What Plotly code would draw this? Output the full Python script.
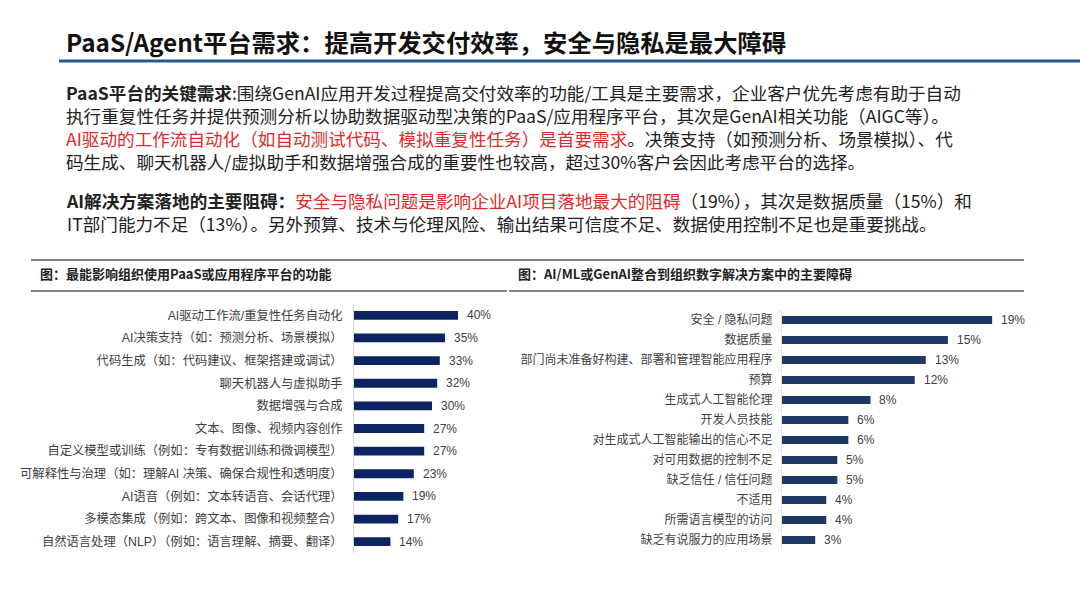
import plotly.graph_objects as go

# 数据：左图（平台功能）
feat_labels = [
    'AI驱动工作流/重复性任务自动化',
    'AI决策支持（如：预测分析、场景模拟）',
    '代码生成（如：代码建议、框架搭建或调试）',
    '聊天机器人与虚拟助手',
    '数据增强与合成',
    '文本、图像、视频内容创作',
    '自定义模型或训练（例如：专有数据训练和微调模型）',
    '可解释性与治理（如：理解AI 决策、确保合规性和透明度）',
    'AI语音（例如：文本转语音、会话代理）',
    '多模态集成（例如：跨文本、图像和视频整合）',
    '自然语言处理（NLP）（例如：语言理解、摘要、翻译）',
]
feat_values = [40, 35, 33, 32, 30, 27, 27, 23, 19, 17, 14]

# 数据：右图（主要障碍）
barrier_labels = [
    '安全 / 隐私问题',
    '数据质量',
    '部门尚未准备好构建、部署和管理智能应用程序',
    '预算',
    '生成式人工智能伦理',
    '开发人员技能',
    '对生成式人工智能输出的信心不足',
    '对可用数据的控制不足',
    '缺乏信任 / 信任问题',
    '不适用',
    '所需语言模型的访问',
    '缺乏有说服力的应用场景',
]
barrier_values = [19, 15, 13, 12, 8, 6, 6, 5, 5, 4, 4, 3]

title_text = 'PaaS/Agent平台需求：提高开发交付效率，安全与隐私是最大障碍'
left_title = '图：最能影响组织使用PaaS或应用程序平台的功能'
right_title = '图：AI/ML或GenAI整合到组织数字解决方案中的主要障碍'

RED = '#e02b2b'
para1 = '<br>'.join([
    '<b>PaaS平台的关键需求</b>:围绕GenAI应用开发过程提高交付效率的功能/工具是主要需求，企业客户优先考虑有助于自动',
    '执行重复性任务并提供预测分析以协助数据驱动型决策的PaaS/应用程序平台，其次是GenAI相关功能（AIGC等）。',
    f'<span style="color:{RED}">AI驱动的工作流自动化（如自动测试代码、模拟重复性任务）是首要需求</span>。决策支持（如预测分析、场景模拟）、代',
    '码生成、聊天机器人/虚拟助手和数据增强合成的重要性也较高，超过30%客户会因此考虑平台的选择。',
])
para2 = '<br>'.join([
    f'<b>AI解决方案落地的主要阻碍：</b><span style="color:{RED}">安全与隐私问题是影响企业AI项目落地最大的阻碍</span>（19%），其次是数据质量（15%）和',
    'IT部门能力不足（13%）。另外预算、技术与伦理风险、输出结果可信度不足、数据使用控制不足也是重要挑战。',
])

W, H = 1080, 608
CJK = 'Noto Sans CJK SC'
LAB = 'Liberation Sans, Noto Sans CJK SC'


def px(x):
    return x / W


def py(y):
    return 1 - y / H


fig = go.Figure()

fig.add_trace(go.Bar(
    x=feat_values, y=feat_labels, orientation='h',
    marker=dict(color='#0d2463', line=dict(width=0)),
    xaxis='x', yaxis='y', hoverinfo='skip',
))
fig.add_trace(go.Bar(
    x=barrier_values, y=barrier_labels, orientation='h',
    marker=dict(color='#203864', line=dict(width=0)),
    xaxis='x2', yaxis='y2', hoverinfo='skip',
))

annotations = []
# 数值标签
for lab, v in zip(feat_labels, feat_values):
    annotations.append(dict(x=v, y=lab, xref='x', yref='y', text=f'{v}%',
                            showarrow=False, xanchor='left', xshift=7,
                            font=dict(family=LAB, size=12, color='#404040')))
for lab, v in zip(barrier_labels, barrier_values):
    annotations.append(dict(x=v, y=lab, xref='x2', yref='y2', text=f'{v}%',
                            showarrow=False, xanchor='left', xshift=7,
                            font=dict(family=LAB, size=12, color='#404040')))

# 标题与正文
annotations.append(dict(x=px(64), y=py(42), xref='paper', yref='paper', text=f'<b>{title_text}</b>',
                        showarrow=False, xanchor='left', yanchor='middle',
                        font=dict(family=CJK, size=24.3, color='#111111')))
annotations.append(dict(x=px(64), y=py(126.5), xref='paper', yref='paper', text=para1,
                        showarrow=False, xanchor='left', yanchor='middle', align='left',
                        font=dict(family=CJK, size=17.6, color='#222222')))
annotations.append(dict(x=px(64), y=py(212.5), xref='paper', yref='paper', text=para2,
                        showarrow=False, xanchor='left', yanchor='middle', align='left',
                        font=dict(family=CJK, size=17.6, color='#222222')))
annotations.append(dict(x=px(38), y=py(273), xref='paper', yref='paper', text=f'<b>{left_title}</b>',
                        showarrow=False, xanchor='left', yanchor='middle',
                        font=dict(family=CJK, size=13, color='#222222')))
annotations.append(dict(x=px(516), y=py(273), xref='paper', yref='paper', text=f'<b>{right_title}</b>',
                        showarrow=False, xanchor='left', yanchor='middle',
                        font=dict(family=CJK, size=13, color='#222222')))

shapes = [
    dict(type='line', xref='paper', yref='paper', x0=px(59), x1=1, y0=py(61), y1=py(61),
         line=dict(color='#2a5a8c', width=3)),
    dict(type='line', xref='paper', yref='paper', x0=px(31), x1=px(1024), y0=py(260), y1=py(260),
         line=dict(color='#5a5a5a', width=1.5)),
    dict(type='line', xref='paper', yref='paper', x0=px(31), x1=px(507), y0=py(291), y1=py(291),
         line=dict(color='#5a5a5a', width=1.5)),
    dict(type='line', xref='paper', yref='paper', x0=px(509), x1=px(1024), y0=py(291), y1=py(291),
         line=dict(color='#5a5a5a', width=1.5)),
]

fig.update_layout(
    width=W, height=H,
    margin=dict(l=0, r=0, t=0, b=0),
    paper_bgcolor='white', plot_bgcolor='white',
    showlegend=False,
    bargap=0.61,
    annotations=annotations,
    shapes=shapes,
    xaxis=dict(domain=[px(354), px(484)], range=[0, 50], visible=False, fixedrange=True),
    yaxis=dict(domain=[py(553), py(304)], anchor='x', autorange='reversed', type='category',
               showline=True, linecolor='#d9d9d9', linewidth=1, ticks='', showgrid=False,
               ticklabelstandoff=8,
               tickfont=dict(family=LAB, size=12.3, color='#404040')),
    xaxis2=dict(domain=[px(782), px(1058.5)], range=[0, 25], visible=False, anchor='y2'),
    yaxis2=dict(domain=[py(550), py(310)], anchor='x2', autorange='reversed', type='category',
                showline=True, linecolor='#e3e3e3', linewidth=1, ticks='outside', tickson='boundaries',
                ticklen=3, tickcolor='#e6e6e6', showgrid=False, ticklabelstandoff=6,
                tickfont=dict(family=LAB, size=12, color='#404040')),
)

# 去掉页面默认边距，使图从左上角开始
fig.write_html('out.html', config={'displayModeBar': False},
               post_script="document.body.style.margin='0';")
